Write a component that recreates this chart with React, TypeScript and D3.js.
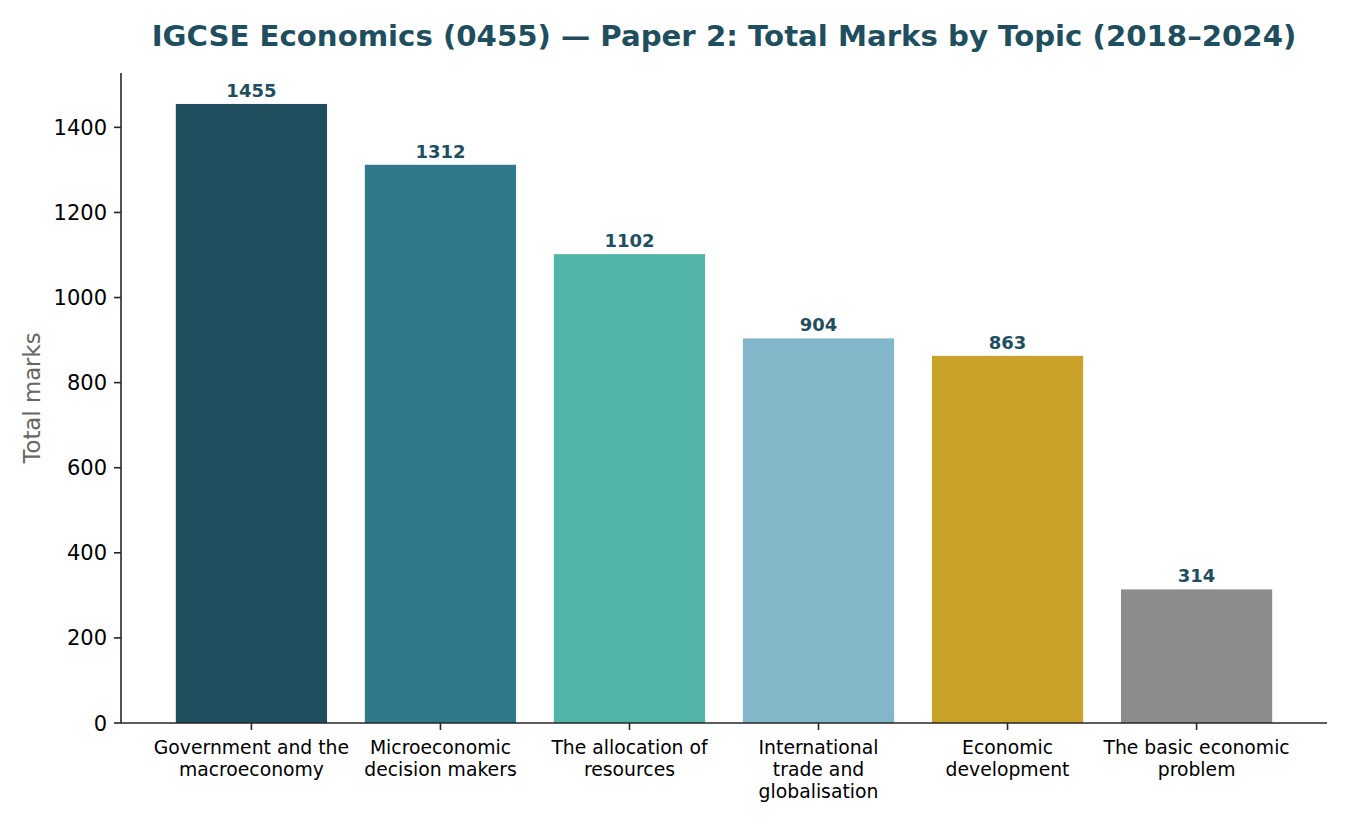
import { useEffect, useRef } from 'react';
import * as d3 from 'd3';

// ─── Data ──────────────────────────────────────────────────
const topics = [
  ['Government and the', 'macroeconomy'],
  ['Microeconomic', 'decision makers'],
  ['The allocation of', 'resources'],
  ['International', 'trade and', 'globalisation'],
  ['Economic', 'development'],
  ['The basic economic', 'problem'],
];
const totalMarks = [1455, 1312, 1102, 904, 863, 314];
const barColors = ['#1f4e5f', '#2e7a8c', '#52b3a9', '#81b7c8', '#c9a22a', '#8c8c8c'];
const yTicks = [0, 200, 400, 600, 800, 1000, 1200, 1400];

const TITLE = 'IGCSE Economics (0455) \u2014 Paper 2: Total Marks by Topic (2018\u20132024)';
const FONT = 'DejaVu Sans, sans-serif';
const DARK = '#1f4e5f';

export default function App() {
  const svgRef = useRef<SVGSVGElement>(null);

  useEffect(() => {
    if (!svgRef.current) return;
    const width = 1350;
    const height = 825;
    const margin = { top: 73, right: 23, bottom: 102, left: 121 };
    const innerW = width - margin.left - margin.right;
    const innerH = height - margin.top - margin.bottom;

    const svg = d3.select(svgRef.current);
    svg.selectAll('*').remove();

    const n = totalMarks.length;
    // matplotlib-ish limits: bars at 0..n-1, width 0.8, 5% margins
    const span = n - 1 + 0.8;
    const x = d3
      .scaleLinear()
      .domain([-0.4 - span * 0.05, n - 1 + 0.4 + span * 0.05])
      .range([0, innerW]);
    const y = d3
      .scaleLinear()
      .domain([0, d3.max(totalMarks)! * 1.05])
      .range([innerH, 0]);

    const g = svg.append('g').attr('transform', `translate(${margin.left},${margin.top})`);

    // ─── Bars ──────────────────────────────────────────────
    g.selectAll('.bar')
      .data(totalMarks)
      .join('rect')
      .attr('class', 'bar')
      .attr('x', (_, i) => x(i - 0.4))
      .attr('width', x(0.8) - x(0))
      .attr('y', (d) => y(d))
      .attr('height', (d) => innerH - y(d))
      .attr('fill', (_, i) => barColors[i]);

    // ─── Value labels ──────────────────────────────────────
    g.selectAll('.val')
      .data(totalMarks)
      .join('text')
      .attr('class', 'val')
      .attr('x', (_, i) => x(i))
      .attr('y', (d) => y(d) - 7)
      .attr('text-anchor', 'middle')
      .attr('font-family', FONT)
      .attr('font-weight', 'bold')
      .attr('font-size', 18)
      .attr('fill', DARK)
      .text((d) => d);

    // ─── Axes (spines) ─────────────────────────────────────
    const axisColor = '#262626';
    g.append('line')
      .attr('x1', 0).attr('x2', 0).attr('y1', 0).attr('y2', innerH)
      .attr('stroke', axisColor).attr('stroke-width', 1.6);
    g.append('line')
      .attr('x1', 0).attr('x2', innerW).attr('y1', innerH).attr('y2', innerH)
      .attr('stroke', axisColor).attr('stroke-width', 1.6);

    // y ticks
    const yt = g.selectAll('.ytick').data(yTicks).join('g').attr('class', 'ytick')
      .attr('transform', (d) => `translate(0,${y(d)})`);
    yt.append('line').attr('x1', -7).attr('x2', 0).attr('stroke', axisColor).attr('stroke-width', 1.6);
    yt.append('text')
      .attr('x', -14)
      .attr('dy', '0.36em')
      .attr('text-anchor', 'end')
      .attr('font-family', FONT)
      .attr('font-size', 21)
      .attr('fill', '#000')
      .text((d) => d);

    // x ticks
    const xt = g.selectAll('.xtick').data(topics).join('g').attr('class', 'xtick')
      .attr('transform', (_, i) => `translate(${x(i)},${innerH})`);
    xt.append('line').attr('y1', 0).attr('y2', 7).attr('stroke', axisColor).attr('stroke-width', 1.6);
    xt.each(function (lines) {
      const t = d3.select(this).append('text')
        .attr('text-anchor', 'middle')
        .attr('font-family', FONT)
        .attr('font-size', 18.8)
        .attr('fill', '#000');
      lines.forEach((line, k) => {
        t.append('tspan').attr('x', 0).attr('y', 31 + k * 22).text(line);
      });
    });

    // y label
    svg.append('text')
      .attr('transform', `translate(40,${margin.top + innerH / 2}) rotate(-90)`)
      .attr('text-anchor', 'middle')
      .attr('font-family', FONT)
      .attr('font-size', 22.8)
      .attr('fill', '#666666')
      .text('Total marks');

    // title
    svg.append('text')
      .attr('x', margin.left + innerW / 2)
      .attr('y', 46)
      .attr('text-anchor', 'middle')
      .attr('font-family', FONT)
      .attr('font-weight', 'bold')
      .attr('font-size', 29.2)
      .attr('fill', DARK)
      .text(TITLE);
  }, []);

  return (
    <div style={{ position: 'absolute', left: 0, top: 0, width: 1350, height: 825, background: '#fff' }}>
      <svg ref={svgRef} width={1350} height={825} />
    </div>
  );
}
